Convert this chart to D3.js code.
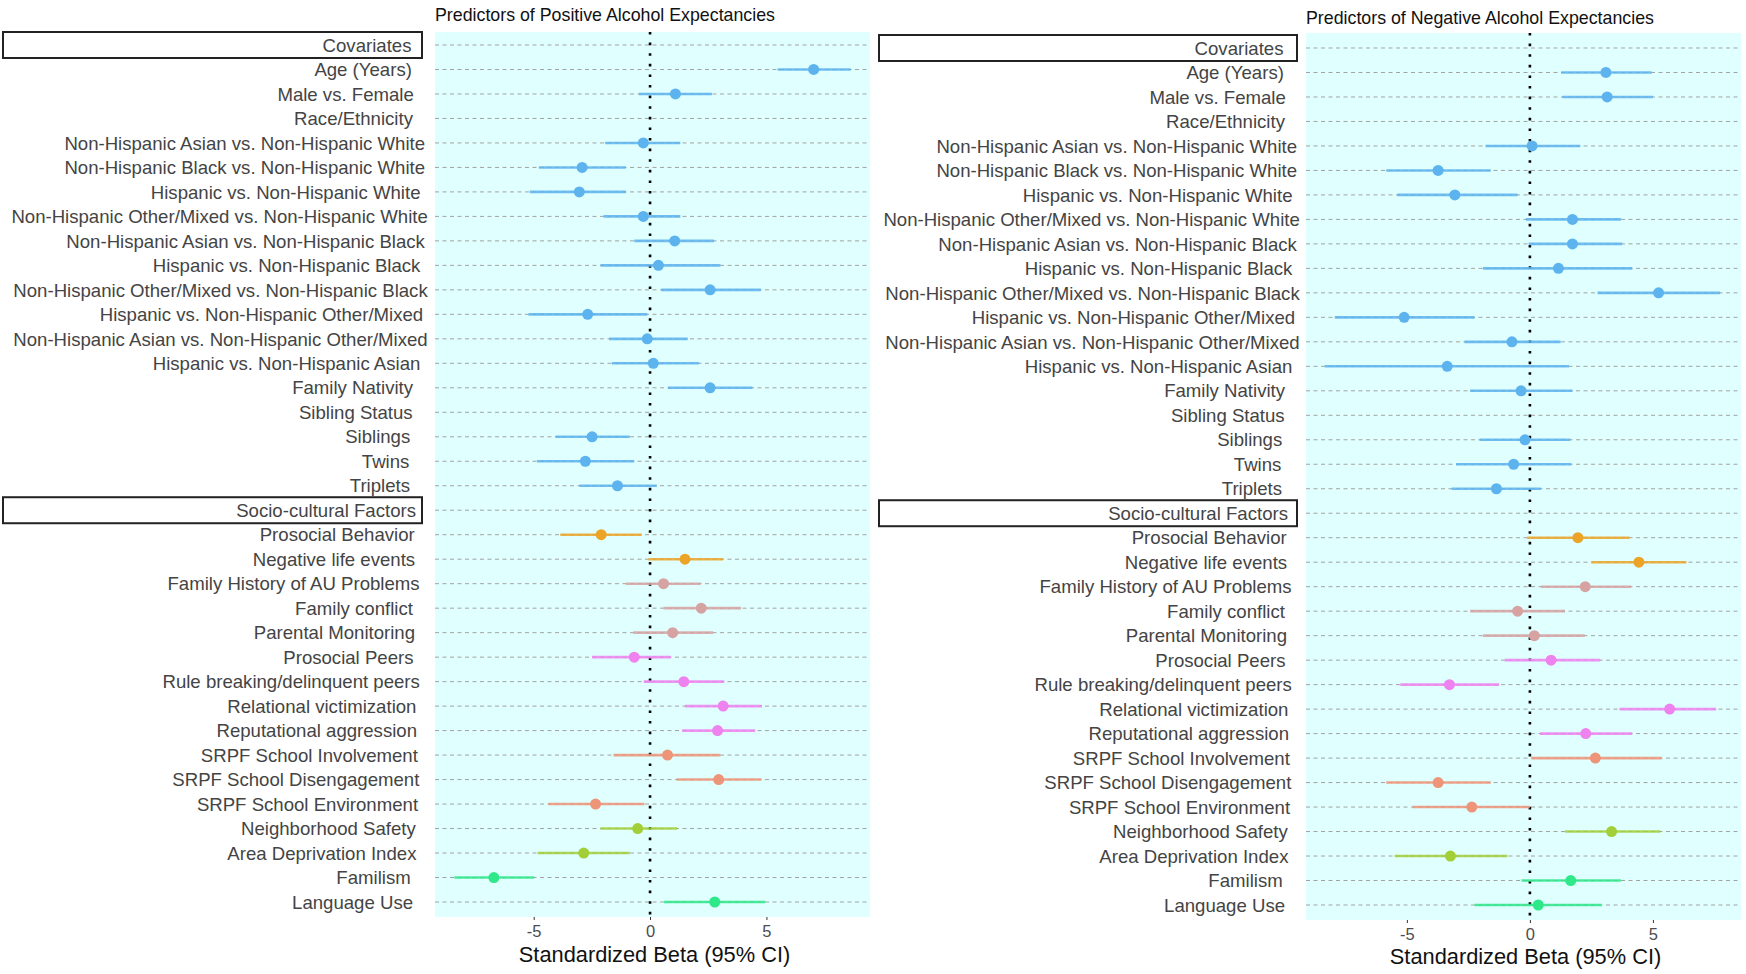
<!DOCTYPE html>
<html>
<head>
<meta charset="utf-8">
<script src="https://cdn.jsdelivr.net/npm/d3@7"></script>
<style>
  body { margin: 0; background: #fff; }
  text { font-family: "Liberation Sans", Arial, sans-serif; }
</style>
</head>
<body>
<div id="chart"></div>
<script>
// row labels (shared by both panels)
var labels = ["Covariates", "Age (Years)", "Male vs. Female", "Race/Ethnicity",
  "Non-Hispanic Asian vs. Non-Hispanic White", "Non-Hispanic Black vs. Non-Hispanic White",
  "Hispanic vs. Non-Hispanic White", "Non-Hispanic Other/Mixed vs. Non-Hispanic White",
  "Non-Hispanic Asian vs. Non-Hispanic Black", "Hispanic vs. Non-Hispanic Black",
  "Non-Hispanic Other/Mixed vs. Non-Hispanic Black", "Hispanic vs. Non-Hispanic Other/Mixed",
  "Non-Hispanic Asian vs. Non-Hispanic Other/Mixed", "Hispanic vs. Non-Hispanic Asian",
  "Family Nativity", "Sibling Status", "Siblings", "Twins", "Triplets",
  "Socio-cultural Factors", "Prosocial Behavior", "Negative life events",
  "Family History of AU Problems", "Family conflict", "Parental Monitoring",
  "Prosocial Peers", "Rule breaking/delinquent peers", "Relational victimization",
  "Reputational aggression", "SRPF School Involvement", "SRPF School Disengagement",
  "SRPF School Environment", "Neighborhood Safety", "Area Deprivation Index",
  "Familism", "Language Use"];

// header rows drawn in a box
var headers = ["Covariates", "Socio-cultural Factors"];

// colour group of each row
var groups = ["h", "cov", "cov", "cov", "cov", "cov", "cov", "cov", "cov", "cov", "cov", "cov",
  "cov", "cov", "cov", "cov", "cov", "cov", "cov", "h", "ind", "ind", "fam", "fam", "fam",
  "peer", "peer", "peer", "peer", "school", "school", "school", "neigh", "neigh", "cult", "cult"];
var groupNames = ["cov", "ind", "fam", "peer", "school", "neigh", "cult"];
var groupColors = ["#5cb3ee", "#eca428", "#d6a2a2", "#ee82ee", "#ee9478", "#a2cf38", "#2ee88a"];

// positive expectancies
var posEst = [null, 7.03, 1.09, null, -0.29, -2.92, -3.04, -0.29, 1.06, 0.36, 2.58, -2.68,
  -0.12, 0.14, 2.58, null, -2.49, -2.78, -1.40, null, -2.10, 1.50, 0.58, 2.20, 0.97,
  -0.68, 1.45, 3.14, 2.90, 0.75, 2.95, -2.34, -0.53, -2.85, -6.71, 2.78];
var posLo = [null, 5.48, -0.48, null, -1.93, -4.78, -5.17, -2.00, -0.68, -2.13, 0.48, -5.22,
  -1.76, -1.64, 0.77, null, -4.06, -4.86, -3.04, null, -3.86, -0.07, -1.04, 0.58, -0.72,
  -2.49, -0.27, 1.50, 1.38, -1.57, 1.14, -4.37, -2.13, -4.83, -8.41, 0.60];
var posHi = [null, 8.62, 2.66, null, 1.30, -1.04, -1.04, 1.30, 2.75, 3.02, 4.76, -0.12,
  1.62, 2.10, 4.40, null, -0.87, -0.68, 0.29, null, -0.36, 3.14, 2.17, 3.91, 2.71,
  0.89, 3.19, 4.81, 4.52, 3.02, 4.78, -0.24, 1.16, -0.87, -4.98, 4.95];

// negative expectancies
var negEst = [null, 3.09, 3.14, null, 0.09, -3.73, -3.05, 1.73, 1.73, 1.16, 5.23, -5.11,
  -0.73, -3.36, -0.36, null, -0.20, -0.66, -1.36, null, 1.95, 4.43, 2.25, -0.50, 0.18,
  0.86, -3.27, 5.68, 2.27, 2.66, -3.73, -2.36, 3.32, -3.23, 1.66, 0.34];
var negLo = [null, 1.27, 1.32, null, -1.80, -5.84, -5.39, -0.16, -0.05, -1.91, 2.75, -7.93,
  -2.66, -8.34, -2.43, null, -2.05, -3.00, -3.18, null, -0.11, 2.50, 0.45, -2.43, -1.91,
  -1.02, -5.27, 3.64, 0.41, 0.07, -5.84, -4.77, 1.43, -5.50, -0.34, -2.25];
var negHi = [null, 4.95, 5.00, null, 2.05, -1.59, -0.50, 3.70, 3.75, 4.16, 7.73, -2.25,
  1.25, 1.59, 1.73, null, 1.64, 1.68, 0.45, null, 4.05, 6.36, 4.11, 1.43, 2.23,
  2.86, -1.25, 7.57, 4.16, 5.36, -1.59, 0.00, 5.30, -0.91, 3.70, 2.91];

var xTicks = [-5, 0, 5];
var titles = ["Predictors of Positive Alcohol Expectancies", "Predictors of Negative Alcohol Expectancies"];
var axisTitle = "Standardized Beta (95% CI)";

var width = 1746, height = 974;
var color = d3.scaleOrdinal().domain(groupNames).range(groupColors);

var svg = d3.select("#chart").append("svg")
  .attr("width", width)
  .attr("height", height);

// panel layouts
var panels = [
  {title: titles[0], est: posEst, lo: posLo, hi: posHi, domain: [-9.24, 9.45],
   left: 435, right: 870, top: 32, bottom: 917, y0: 45, y1: 902,
   labelX: 407, boxX0: 3, boxX1: 422, titleY: 21, axisTitleY: 962},
  {title: titles[1], est: negEst, lo: negLo, hi: negHi, domain: [-9.1, 8.58],
   left: 1306, right: 1741, top: 33, bottom: 920, y0: 48, y1: 905,
   labelX: 1279, boxX0: 879, boxX1: 1297, titleY: 24, axisTitleY: 964}
];

panels.forEach(function(p) {
  var x = d3.scaleLinear().domain(p.domain).range([p.left, p.right]);
  var y = d3.scalePoint().domain(d3.range(labels.length)).range([p.y0, p.y1]);
  var g = svg.append("g");

  g.append("rect")
    .attr("x", p.left).attr("y", p.top)
    .attr("width", p.right - p.left).attr("height", p.bottom - p.top)
    .attr("fill", "#e0ffff");

  // dashed row lines
  g.selectAll(".grid").data(labels).enter().append("line")
    .attr("x1", p.left).attr("x2", p.right)
    .attr("y1", function(d, i) { return y(i); })
    .attr("y2", function(d, i) { return y(i); })
    .attr("stroke", "#a3a3a3")
    .attr("stroke-width", 1)
    .attr("stroke-dasharray", "4,3.5");

  // zero line
  g.append("line")
    .attr("x1", x(0)).attr("x2", x(0))
    .attr("y1", p.top).attr("y2", p.bottom)
    .attr("stroke", "#000")
    .attr("stroke-width", 2.6)
    .attr("stroke-dasharray", "2.6,8");

  var rows = d3.range(labels.length).filter(function(i) { return p.est[i] !== null; });

  g.selectAll(".ci").data(rows).enter().append("line")
    .attr("x1", function(i) { return x(p.lo[i]); })
    .attr("x2", function(i) { return x(p.hi[i]); })
    .attr("y1", function(i) { return y(i); })
    .attr("y2", function(i) { return y(i); })
    .attr("stroke", function(i) { return color(groups[i]); })
    .attr("stroke-opacity", 0.85)
    .attr("stroke-width", 2.6);

  g.selectAll(".pt").data(rows).enter().append("circle")
    .attr("cx", function(i) { return x(p.est[i]); })
    .attr("cy", function(i) { return y(i); })
    .attr("r", 5.5)
    .attr("fill", function(i) { return color(groups[i]); });

  // header boxes
  g.selectAll(".box").data(d3.range(labels.length).filter(function(i) {
      return headers.indexOf(labels[i]) >= 0; }))
    .enter().append("rect")
    .attr("x", p.boxX0).attr("y", function(i) { return y(i) - 13; })
    .attr("width", p.boxX1 - p.boxX0).attr("height", 26)
    .attr("fill", "#fff")
    .attr("stroke", "#222")
    .attr("stroke-width", 2);

  // row labels - right edge drifts a little with label length, like the original
  g.selectAll(".lab").data(labels).enter().append("text")
    .attr("y", function(d, i) { return y(i); })
    .attr("dy", "0.36em")
    .attr("text-anchor", "end")
    .attr("font-size", 18.6)
    .attr("fill", "#444")
    .text(function(d) { return d; })
    .attr("x", function() { return p.labelX + 0.05 * this.getComputedTextLength(); });

  // x axis
  var axis = d3.axisBottom(x).tickValues(xTicks).tickSize(3).tickPadding(5)
    .tickFormat(function(d) { return String(d); });
  var ax = g.append("g").attr("transform", "translate(0," + p.bottom + ")").call(axis);
  ax.select(".domain").remove();
  ax.selectAll("line").attr("stroke", "#333");
  ax.selectAll("text").attr("font-size", 16.5).attr("fill", "#4d4d4d")
    .attr("font-family", "Liberation Sans, Arial, sans-serif");

  g.append("text")
    .attr("x", (p.left + p.right) / 2 + 2)
    .attr("y", p.axisTitleY)
    .attr("text-anchor", "middle")
    .attr("font-size", 21.8)
    .attr("fill", "#111")
    .text(axisTitle);

  g.append("text")
    .attr("x", p.left)
    .attr("y", p.titleY)
    .attr("font-size", 17.8)
    .attr("fill", "#111")
    .text(p.title);
});
</script>
</body>
</html>
